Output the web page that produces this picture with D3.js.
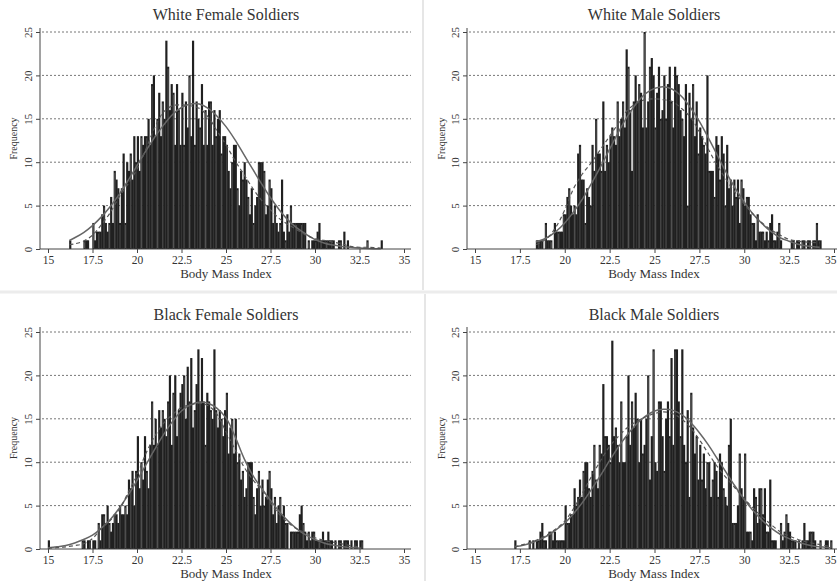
<!DOCTYPE html>
<html><head><meta charset="utf-8">
<script src="https://cdn.jsdelivr.net/npm/d3@7"></script>
<style>body{margin:0;background:#fff}</style>
</head><body><svg id="c" width="837" height="581"></svg>
<script>
// ---------------- DATA ----------------
const titles = ["White Female Soldiers", "White Male Soldiers", "Black Female Soldiers", "Black Male Soldiers"];
const xLabel = "Body Mass Index";
const yLabel = "Frequency";
const xTicks = [15, 17.5, 20, 22.5, 25, 27.5, 30, 32.5, 35];
const yTicks = [0, 5, 10, 15, 20, 25];
const binWidth = 0.1;

// White female: bins of 0.1 BMI starting at 16.2
const wfStart = 16.2;
const wfCounts = [
 1,0,0,0,0,0,0,0,
 1,1,1,0,0,3,1,2,2,2,
 4,5,3,2,3,6,3,9,8,7,
 3,7,11,3,10,9,11,8,13,10,
 13,9,13,12,13,13,15,12,19,20,
 13,15,18,13,17,15,24,21,16,19,
 18,12,19,16,12,18,12,17,14,20,
 13,24,12,17,15,14,19,12,16,12,
 17,17,12,16,13,15,16,11,13,13,
 12,9,7,10,12,12,7,5,9,8,
 10,8,6,4,7,3,5,6,10,10,
 10,9,4,5,8,7,3,5,3,2,
 3,8,2,1,4,2,5,3,3,3,
 3,3,3,3,3,0,1,0,1,1,
 1,2,3,1,1,1,1,1,1,1,
 1,0,0,1,1,0,2,0,1,0,
 0,0,0,0,0,0,0,0,0,1,
 0,0,0,0,0,0,0,1
];
const wfNormal = [[16.2,1.0],[16.5,1.3],[17,1.9],[17.5,2.7],[18,3.7],[18.5,4.9],[19,6.3],[19.5,7.9],[20,9.6],[20.5,11.3],[21,12.9],[21.5,14.3],[22,15.5],[22.5,16.3],[23,16.7],[23.5,16.7],[24,16.2],[24.5,15.3],[25,14.1],[25.5,12.6],[26,10.9],[26.5,9.2],[27,7.5],[27.5,5.9],[28,4.5],[28.5,3.3],[29,2.4],[29.5,1.7],[30,1.1],[30.5,0.7],[31,0.45],[31.5,0.3],[32,0.2],[32.5,0.12],[33,0.07],[33.7,0.04]];
const wfKernel = [[16.2,0.5],[16.5,0.6],[17,0.9],[17.5,1.6],[18,2.8],[18.5,4.2],[19,6.0],[19.5,7.5],[20,9.2],[20.5,11.5],[21,14.0],[21.5,15.8],[22,16.5],[22.5,16.6],[23,16.5],[23.5,16.2],[24,15.2],[24.5,13.6],[25,12.0],[25.5,10.2],[26,8.6],[26.5,7.0],[27,5.6],[27.5,4.5],[28,3.5],[28.5,2.8],[29,2.2],[29.5,1.6],[30,1.2],[30.5,1.0],[31,0.8],[31.5,0.6],[32,0.3],[32.5,0.2],[33,0.2],[33.7,0.1]];

// White male: bins start at 18.4
const wmStart = 18.4;
const wmCounts = [
 1,1,1,1,0,3,
 1,1,1,0,3,2,2,2,2,4,
 4,6,7,5,4,5,4,11,12,8,
 8,3,7,6,5,12,9,15,11,11,
 9,17,9,12,10,13,14,13,12,17,
 13,15,17,14,23,21,16,9,17,20,
 17,19,18,14,25,14,17,21,22,20,
 14,18,21,15,16,20,15,19,21,17,
 14,21,20,19,16,15,13,19,5,18,
 15,19,13,17,11,14,13,12,11,20,
 9,9,9,6,13,12,8,13,11,5,
 12,7,8,5,8,6,8,3,8,7,
 5,6,6,4,3,3,1,4,2,2,
 2,1,2,1,3,4,1,1,2,3,
 1,0,0,0,0,0,1,1,0,1,
 1,0,1,1,0,1,1,0,1,1,
 3,1,1
];
const wmNormal = [[18.4,0.8],[19,1.3],[19.5,2.0],[20,3.0],[20.5,4.3],[21,5.8],[21.5,7.6],[22,9.5],[22.5,11.5],[23,13.5],[23.5,15.3],[24,16.8],[24.5,17.9],[25,18.5],[25.5,18.7],[26,18.4],[26.5,17.6],[27,16.3],[27.5,14.7],[28,12.8],[28.5,10.8],[29,8.8],[29.5,7.0],[30,5.4],[30.5,4.0],[31,2.9],[31.5,2.0],[32,1.3],[32.5,0.9],[33,0.55],[33.5,0.35],[34.2,0.2]];
const wmKernel = [[18.4,0.5],[19,1.2],[19.5,2.5],[20,4.5],[20.5,7.0],[21,8.7],[21.5,10.0],[22,11.5],[22.5,13.0],[23,14.5],[23.5,16.0],[24,16.8],[24.5,17.2],[25,17.3],[25.5,17.2],[26,17.0],[26.5,16.2],[27,15.2],[27.5,13.5],[28,11.5],[28.5,9.6],[29,8.0],[29.5,6.5],[30,5.2],[30.5,4.0],[31,3.0],[31.5,2.2],[32,1.6],[32.5,1.1],[33,0.9],[33.5,0.8],[34.2,0.7]];

// Black female: bins start at 15.0
const bfStart = 15.0;
const bfCounts = [
 1,0,0,0,0,0,0,0,0,0,
 0,0,0,0,0,0,0,0,0,1,
 1,0,1,1,0,1,1,0,3,1,
 4,4,3,5,3,2,3,4,4,3,
 5,4,4,5,4,8,7,9,5,9,
 13,7,10,8,13,9,7,12,17,12,
 15,12,16,14,16,15,13,17,20,12,
 18,20,13,16,18,19,20,15,21,17,
 22,14,16,19,23,17,22,17,12,18,
 17,16,15,23,16,14,16,15,13,16,
 18,11,14,15,11,15,10,11,8,9,
 6,7,10,10,10,6,4,7,9,5,
 8,5,6,8,9,7,4,6,3,5,
 6,4,5,3,3,0,2,2,2,2,
 2,4,5,3,2,1,2,1,2,2,
 1,1,1,1,2,1,1,2,1,1,
 0,1,0,1,1,0,1,1,1,0,
 1,0,1,1,0,1,1
];
const bfNormal = [[15,0.15],[15.5,0.25],[16,0.4],[16.5,0.7],[17,1.1],[17.5,1.6],[18,2.4],[18.5,3.4],[19,4.7],[19.5,6.2],[20,7.9],[20.5,9.7],[21,11.5],[21.5,13.2],[22,14.7],[22.5,15.9],[23,16.6],[23.5,16.9],[24,16.8],[24.5,16.2],[25,15.1],[25.5,13.0],[26,10.5],[26.5,8.5],[27,7.0],[27.5,5.6],[28,4.3],[28.5,3.2],[29,2.3],[29.5,1.6],[30,1.1],[30.5,0.7],[31,0.45],[31.5,0.3],[32,0.18],[32.6,0.1]];
const bfKernel = [[15,0.1],[15.5,0.15],[16,0.25],[16.5,0.4],[17,0.6],[17.5,1.2],[18,2.4],[18.5,3.3],[19,4.5],[19.5,6.5],[20,8.5],[20.5,11.0],[21,13.0],[21.5,14.5],[22,15.5],[22.5,16.3],[23,16.6],[23.5,16.8],[24,16.5],[24.5,15.5],[25,13.5],[25.5,11.5],[26,9.5],[26.5,8.0],[27,6.8],[27.5,5.3],[28,4.0],[28.5,3.0],[29,2.3],[29.5,1.8],[30,1.3],[30.5,1.0],[31,0.8],[31.5,0.6],[32,0.4],[32.6,0.2]];

// Black male: bins start at 17.2
const bmStart = 17.2;
const bmCounts = [
 1,0,0,0,0,0,0,0,
 1,0,1,0,1,1,2,3,1,1,
 0,2,2,1,2,1,1,1,1,1,
 5,3,3,4,4,7,5,6,8,6,
 9,10,10,7,6,9,12,8,7,12,
 11,19,13,13,12,10,24,13,14,12,
 10,17,10,10,13,20,12,17,14,18,
 15,10,15,11,12,15,20,8,13,23,
 10,9,17,17,13,9,15,17,13,22,
 12,23,23,17,13,23,12,10,16,6,
 18,14,11,13,8,12,8,11,7,10,
 10,6,8,10,9,6,11,10,7,6,
 5,12,15,3,3,3,5,11,7,6,
 11,2,2,2,1,7,6,3,7,7,
 4,7,2,2,8,1,1,1,0,0,
 3,1,2,4,3,2,1,1,1,0,
 1,0,1,3,1,1,2,2,2,1,
 0,0,1,0,0,1,1,0,1
];
const bmNormal = [[17.2,0.3],[17.5,0.35],[18,0.6],[18.5,1.0],[19,1.5],[19.5,2.2],[20,3.0],[20.5,4.1],[21,5.4],[21.5,6.9],[22,8.5],[22.5,10.2],[23,11.8],[23.5,13.2],[24,14.4],[24.5,15.3],[25,15.9],[25.5,16.1],[26,16.0],[26.5,15.5],[27,14.6],[27.5,13.4],[28,12.0],[28.5,10.4],[29,8.8],[29.5,7.2],[30,5.7],[30.5,4.4],[31,3.3],[31.5,2.4],[32,1.7],[32.5,1.2],[33,0.8],[33.5,0.5],[34,0.3],[34.5,0.2],[34.8,0.15]];
const bmKernel = [[17.2,0.2],[17.5,0.4],[18,0.7],[18.5,1.1],[19,1.6],[19.5,2.3],[20,3.2],[20.5,4.7],[21,6.5],[21.5,8.4],[22,10.2],[22.5,11.8],[23,13.0],[23.5,14.0],[24,14.7],[24.5,15.2],[25,15.6],[25.5,15.8],[26,15.6],[26.5,15.0],[27,14.0],[27.5,12.6],[28,11.0],[28.5,9.5],[29,8.2],[29.5,7.0],[30,5.8],[30.5,4.7],[31,3.7],[31.5,2.8],[32,2.0],[32.5,1.5],[33,1.1],[33.5,0.8],[34,0.6],[34.5,0.4],[34.8,0.3]];

// ---------------- LAYOUT ----------------
const FONT = "'Liberation Serif','Times New Roman',serif";
const TEXT = "#333";
const panels = [
  {title: titles[0], start: wfStart, counts: wfCounts, normal: wfNormal, kernel: wfKernel,
   axisX: 40, xr: [48, 404], axisEnd: 411, yr: [249, 32], axisTop: 28, titleY: 20, cx: 226, ylabX: 17},
  {title: titles[1], start: wmStart, counts: wmCounts, normal: wmNormal, kernel: wmKernel,
   axisX: 467, xr: [475, 834], axisEnd: 837, yr: [249, 32], axisTop: 28, titleY: 20, cx: 654, ylabX: 445},
  {title: titles[2], start: bfStart, counts: bfCounts, normal: bfNormal, kernel: bfKernel,
   axisX: 40, xr: [48, 404], axisEnd: 411, yr: [549, 332], axisTop: 327, titleY: 320, cx: 226, ylabX: 17},
  {title: titles[3], start: bmStart, counts: bmCounts, normal: bmNormal, kernel: bmKernel,
   axisX: 467, xr: [475, 834], axisEnd: 837, yr: [549, 332], axisTop: 327, titleY: 320, cx: 654, ylabX: 445}
];

const svg = d3.select("#c");
svg.append("rect").attr("width", 837).attr("height", 581).attr("fill", "#fff");

// faint separators between the four figures
svg.append("line").attr("x1", 423).attr("x2", 423).attr("y1", 0).attr("y2", 290)
  .attr("stroke", "#e6e6e6").attr("stroke-width", 2);
svg.append("line").attr("x1", 0).attr("x2", 837).attr("y1", 292).attr("y2", 292)
  .attr("stroke", "#ececec").attr("stroke-width", 3);
svg.append("line").attr("x1", 425).attr("x2", 425).attr("y1", 294).attr("y2", 581)
  .attr("stroke", "#e6e6e6").attr("stroke-width", 2);

panels.forEach(p => {
  const x = d3.scaleLinear().domain([15, 35]).range(p.xr);
  const y = d3.scaleLinear().domain([0, 25]).range(p.yr);
  const g = svg.append("g");

  // dotted gridlines
  g.selectAll(".grid").data(yTicks.filter(v => v > 0)).join("line")
    .attr("x1", p.axisX + 2).attr("x2", p.axisEnd)
    .attr("y1", d => y(d)).attr("y2", d => y(d))
    .attr("stroke", "#777").attr("stroke-width", 1).attr("stroke-dasharray", "2,2");

  // histogram bars: dark fill, a faint light seam on each bar's left edge
  const bins = p.counts.map((c, i) => ({x0: +(p.start + i * binWidth).toFixed(1), c}));
  const bw = x(15 + binWidth) - x(15);
  const bars = g.selectAll(".bar").data(bins.filter(b => b.c > 0)).join("g");
  bars.append("rect")
    .attr("x", d => x(d.x0) - 0.2)
    .attr("width", bw + 0.4)
    .attr("y", d => y(d.c))
    .attr("height", d => y(0) - y(d.c))
    .attr("fill", "#202020");
  bars.filter((d, i) => i % 3 === 1).append("line")
    .attr("x1", d => x(d.x0 + binWidth / 2)).attr("x2", d => x(d.x0 + binWidth / 2))
    .attr("y1", d => y(d.c) + 2).attr("y2", d => y(0) - 1)
    .attr("stroke", "#b5b5b5").attr("stroke-width", 0.35);

  // curves
  const line = d3.line().x(d => x(d[0])).y(d => y(d[1])).curve(d3.curveCatmullRom);
  g.append("path").datum(p.normal).attr("d", line)
    .attr("fill", "none").attr("stroke", "#666").attr("stroke-width", 1.5);
  g.append("path").datum(p.kernel).attr("d", line)
    .attr("fill", "none").attr("stroke", "#555").attr("stroke-width", 1.2).attr("stroke-dasharray", "4,3");

  // axes
  const yAxis = d3.axisLeft(y).tickValues(yTicks).tickSize(4).tickSizeOuter(0).tickFormat(d => String(d));
  const ya = g.append("g").attr("transform", `translate(${p.axisX},0)`).call(yAxis);
  ya.select(".domain").remove();
  ya.selectAll("line").attr("stroke", "#444");
  ya.selectAll("text").attr("x", null).attr("dy", null)
    .attr("transform", "translate(-8,0) rotate(-90)")
    .attr("text-anchor", "middle")
    .attr("font-family", FONT).attr("font-size", 11).attr("fill", TEXT);

  const xAxis = d3.axisBottom(x).tickValues(xTicks).tickSize(4).tickSizeOuter(0).tickFormat(d => String(d));
  const xa = g.append("g").attr("transform", `translate(0,${p.yr[0]})`).call(xAxis);
  xa.select(".domain").remove();
  xa.selectAll("line").attr("stroke", "#444");
  xa.selectAll("text").attr("font-family", FONT).attr("font-size", 11.5).attr("fill", TEXT)
    .attr("y", 7);
  xa.selectAll("text").filter(d => x(d) + 7 > 837)
    .attr("text-anchor", "end").attr("x", d => 836 - x(d));

  // axis lines
  g.append("line").attr("x1", p.axisX).attr("x2", p.axisX).attr("y1", p.axisTop).attr("y2", p.yr[0])
    .attr("stroke", "#444").attr("stroke-width", 1);
  g.append("line").attr("x1", p.axisX).attr("x2", p.axisEnd).attr("y1", p.yr[0]).attr("y2", p.yr[0])
    .attr("stroke", "#444").attr("stroke-width", 1);

  // labels
  g.append("text").attr("x", p.cx).attr("y", p.titleY).attr("text-anchor", "middle")
    .attr("font-family", FONT).attr("font-size", 16).attr("fill", TEXT).text(p.title);
  g.append("text").attr("x", p.cx).attr("y", p.yr[0] + 29).attr("text-anchor", "middle")
    .attr("font-family", FONT).attr("font-size", 13).attr("fill", TEXT).text(xLabel);
  g.append("text")
    .attr("transform", `translate(${p.ylabX},${(p.yr[0] + p.axisTop) / 2}) rotate(-90)`)
    .attr("text-anchor", "middle")
    .attr("font-family", FONT).attr("font-size", 10).attr("fill", TEXT).text(yLabel);
});
</script>
</body></html>
